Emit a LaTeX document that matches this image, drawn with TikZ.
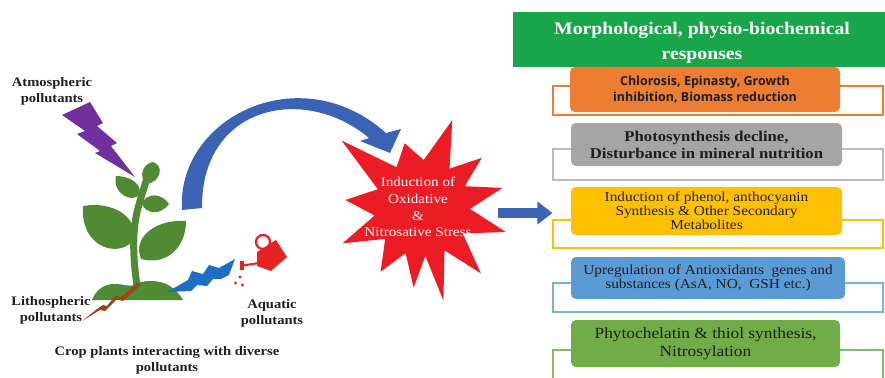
\documentclass[tikz,border=0pt]{standalone}
\usepackage{fontspec}
\setmainfont{Liberation Serif}[FakeStretch=1.12]
\newfontfamily\boxsans{Open Sans}
\usetikzlibrary{arrows.meta}

\definecolor{hdrgreen}{RGB}{25,166,75}
\definecolor{boxorange}{RGB}{237,125,49}
\definecolor{boxgray}{RGB}{165,165,165}
\definecolor{boxyellow}{RGB}{255,192,0}
\definecolor{boxblue}{RGB}{91,155,213}
\definecolor{boxgreen}{RGB}{112,173,71}
\definecolor{starred}{RGB}{236,28,36}
\definecolor{arcblue}{RGB}{58,98,181}
\definecolor{boltblue}{RGB}{30,110,195}
\definecolor{boltpurple}{RGB}{112,48,160}
\definecolor{boltbrown}{RGB}{150,72,25}
\definecolor{leafgreen}{RGB}{80,138,50}
\definecolor{canred}{RGB}{230,35,35}
\definecolor{inktext}{RGB}{30,30,30}

\begin{document}
\begin{tikzpicture}[x=1pt,y=-1pt,
  lbl/.style={align=center, inner sep=0pt, text=inktext,
    font=\bfseries\fontsize{13}{16}\selectfont},
  rbox/.style={rounded corners=5pt, inner sep=0pt, align=center, text=inktext},
  framebox/.style={draw, line width=1.1pt, inner sep=0pt,
    minimum width=330pt},
  leaf/.style={fill=leafgreen}
]
\useasboundingbox (0,0) rectangle (885,377);

% ---------- plant ----------
\fill[leafgreen] (92,300) .. controls (96,290) and (104,284) .. (114,284)
  .. controls (124,284) and (130,287) .. (134,285)
  .. controls (140,280) and (160,279) .. (170,286)
  .. controls (176,290) and (181,296) .. (183,300) -- cycle;
\draw[leafgreen, line width=7pt, line cap=round]
  (138,292) .. controls (133,262) and (132,235) .. (137,212)
  .. controls (141,197) and (144,188) .. (147,178);
% leaves
\fill[leaf] (147,184) .. controls (137,176) and (144,163) .. (153,162)
  .. controls (165,166) and (160,182) .. (147,184) -- cycle;
\fill[leaf] (139,195) .. controls (132,203) and (112,194) .. (116,176)
  .. controls (130,176) and (143,184) .. (139,195) -- cycle;
\fill[leaf] (142,204) .. controls (146,192) and (162,193) .. (169,204)
  .. controls (160,216) and (146,214) .. (142,204) -- cycle;
\fill[leaf] (134,239) .. controls (121,259) and (80,249) .. (83,206)
  .. controls (110,201) and (138,215) .. (134,239) -- cycle;
\fill[leaf] (141,259) .. controls (132,237) and (156,219) .. (186,221)
  .. controls (186,248) and (166,266) .. (141,259) -- cycle;

% ---------- pollutant bolts ----------
\fill[boltpurple] (62,115) -- (90,102) -- (103,123) -- (97,126) -- (117,143)
  -- (111,146) -- (135,177) -- (95,153) -- (100,151) -- (77,134) -- (85,131) -- cycle;
\fill[boltbrown] (137,283) -- (141,285) -- (123,301) -- (117,299) -- (105,311)
  -- (100,310) -- (82,321) -- (97,309) -- (103,305) -- (107,306) -- (115,296)
  -- (121,297) -- cycle;
\fill[boltblue] (167,292) -- (188,280) -- (192,271) -- (203,274) -- (209,265)
  -- (219,268) -- (235,259) -- (229,275) -- (221,279) -- (213,279) -- (207,286)
  -- (197,285) -- (191,291) -- cycle;

% ---------- watering can ----------
\draw[canred, line width=2.3pt] (263,242) circle (7pt);
\fill[canred] (257,252) -- (276,240) -- (287,257) -- (271,271) -- (257,266) -- cycle;
\draw[canred, line width=2pt] (259,263) -- (243,265.5);
\fill[canred] (239.5,261) rectangle (243.5,270);
\fill[canred] (240,277) circle (1.7pt) (235.5,283) circle (1.7pt) (242.5,285) circle (1.7pt);

% ---------- labels on the left ----------
\node[lbl] (atmo) at (52,91) {Atmospheric\\pollutants};
\node[lbl] (litho) at (51,310) {Lithospheric\\pollutants};
\node[lbl] (aqua) at (272,313) {Aquatic\\pollutants};
\node[lbl] (crop) at (167,360) {Crop plants interacting with diverse\\pollutants};

% ---------- stress star ----------
\fill[starred, shift={(422,208)}]
  (-71:93) -- (-55:48) -- (-40:78) -- (-27:48) -- (-14:83) -- (1:48)
  -- (16:87) -- (32:48) -- (48:88) -- (62:48) -- (77:95) -- (86:48)
  -- (96:80) -- (110:48) -- (123:76) -- (140:48) -- (156:87) -- (171:48)
  -- (186:77) -- (203:48) -- (220:105) -- (238:48) -- (255:67) -- (272:48) -- cycle;
\node[align=center, inner sep=0pt, text=white,
  font=\fontsize{13.5}{16.7}\selectfont] (stress) at (418,207)
  {Induction of\\Oxidative\\\&\\Nitrosative Stress};

% ---------- curved arrow from plant to star ----------
\fill[arcblue] (182,210) .. controls (176,118) and (300,56) .. (386,133)
  -- (401,129) -- (390,153) -- (360,141) -- (369,138)
  .. controls (305,84) and (201,105) .. (202,208) -- cycle;

% ---------- responses ----------
\fill[hdrgreen] (513,12) rectangle (892,67);
\node[align=center, inner sep=0pt, text=white,
  font=\bfseries\fontsize{17.6}{25}\selectfont] (head) at (702,43)
  {Morphological, physio-biochemical\\responses};

\node[framebox, draw=boxorange, minimum height=29pt] (ofr) at (718,100.5) {};
\node[rbox, fill=boxorange, minimum width=270pt, minimum height=45pt,
  font=\boxsans\bfseries\fontsize{12.5}{16}\selectfont] (chl) at (705,89.5)
  {Chlorosis, Epinasty, Growth\\inhibition, Biomass reduction};

\node[framebox, draw=boxgray!75, minimum height=31pt] (gfr) at (718,164.5) {};
\node[rbox, fill=boxgray, minimum width=271pt, minimum height=43pt,
  font=\bfseries\fontsize{14.9}{17}\selectfont] (pho) at (706.5,144.5)
  {Photosynthesis decline,\\Disturbance in mineral nutrition};

\node[framebox, draw=boxyellow, minimum height=28pt] (yfr) at (718,234) {};
\node[rbox, fill=boxyellow, minimum width=271pt, minimum height=48pt,
  font=\fontsize{13.7}{14}\selectfont] (phe) at (706.5,211)
  {Induction of phenol, anthocyanin\\Synthesis \& Other Secondary\\Metabolites};

\node[framebox, draw=boxblue!80, minimum height=29pt] (bfr) at (718,297.5) {};
\node[rbox, fill=boxblue, minimum width=274pt, minimum height=42pt,
  font=\fontsize{13.7}{14}\selectfont] (anti) at (708,278)
  {Upregulation of Antioxidants~ genes and\\substances (AsA, NO,~ GSH etc.)};

\node[framebox, draw=boxgreen!85, minimum height=30pt] (gnfr) at (718,365) {};
\node[rbox, fill=boxgreen, minimum width=269pt, minimum height=47pt,
  font=\fontsize{15.5}{18}\selectfont] (phy) at (705.5,343.5)
  {Phytochelatin \& thiol synthesis,\\Nitrosylation};

% ---------- arrow from star to responses ----------
\coordinate (arrS) at (498,213);
\draw[arcblue, line width=10pt, -{Triangle[length=15pt,width=22pt]}]
  (arrS) -- (arrS -| yfr.west);
\end{tikzpicture}
\end{document}
